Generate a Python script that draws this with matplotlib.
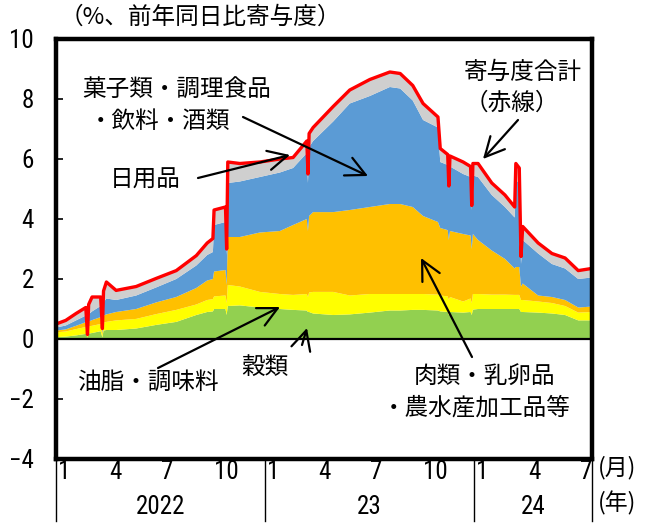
import matplotlib
matplotlib.use("Agg")
import matplotlib.pyplot as plt
import matplotlib.transforms as mtransforms
from matplotlib import font_manager
from matplotlib.font_manager import FontProperties
import numpy as np
import pandas as pd

plt.rcParams['font.family'] = ['Noto Sans CJK JP', 'DejaVu Sans']
plt.rcParams['axes.unicode_minus'] = True

# ---------------- data (contributions, % points) ----------------
dates = ["2022-01-01", "2022-01-18", "2022-02-05", "2022-02-22", "2022-02-25", "2022-02-27",
         "2022-03-05", "2022-03-20", "2022-03-23", "2022-03-25", "2022-03-30", "2022-04-16",
         "2022-05-21", "2022-06-25", "2022-07-30", "2022-09-03", "2022-09-22", "2022-10-02",
         "2022-10-04", "2022-10-24", "2022-10-26", "2022-10-28", "2022-11-18", "2022-12-23",
         "2023-01-27", "2023-02-19", "2023-03-15", "2023-03-17", "2023-03-19", "2023-03-26",
         "2023-04-30", "2023-05-29", "2023-07-03", "2023-08-07", "2023-08-25", "2023-09-16",
         "2023-10-04", "2023-10-30", "2023-11-03", "2023-11-16", "2023-11-18", "2023-11-20",
         "2023-12-13", "2023-12-26", "2023-12-28", "2023-12-30", "2024-01-08", "2024-02-01",
         "2024-02-24", "2024-03-12", "2024-03-14", "2024-03-20", "2024-03-23", "2024-03-26",
         "2024-04-22", "2024-05-16", "2024-06-08", "2024-07-01", "2024-07-24"]

# 穀類
grains = [0.06, 0.08, 0.12, 0.17, 0.05, 0.18, 0.20, 0.26, 0.05, 0.28, 0.30, 0.30,
          0.35, 0.47, 0.57, 0.80, 0.90, 0.92, 1.00, 1.00, 0.80, 1.10, 1.12, 1.05,
          1.00, 0.97, 0.95, 0.90, 0.90, 0.85, 0.80, 0.82, 0.88, 0.95, 0.95, 0.97,
          0.97, 0.95, 0.92, 0.90, 0.80, 0.90, 0.88, 0.90, 0.80, 0.98, 1.00, 1.00,
          1.00, 1.00, 1.00, 1.00, 0.90, 0.90, 0.88, 0.85, 0.80, 0.62, 0.62]

# 油脂・調味料
oils = [0.16, 0.17, 0.21, 0.23, 0.05, 0.24, 0.24, 0.24, 0.07, 0.26, 0.27, 0.32,
        0.32, 0.36, 0.40, 0.35, 0.40, 0.41, 0.42, 0.45, 0.40, 0.70, 0.63, 0.52,
        0.50, 0.50, 0.55, 0.50, 0.65, 0.72, 0.77, 0.63, 0.62, 0.55, 0.55, 0.53,
        0.53, 0.53, 0.53, 0.52, 0.50, 0.50, 0.37, 0.45, 0.40, 0.52, 0.50, 0.48,
        0.48, 0.47, 0.47, 0.47, 0.40, 0.40, 0.37, 0.35, 0.30, 0.26, 0.28]

# 肉類・乳卵品・農水産加工品等
meat = [0.06, 0.07, 0.11, 0.16, 0.02, 0.16, 0.19, 0.23, 0.08, 0.24, 0.25, 0.28,
        0.33, 0.39, 0.43, 0.55, 0.65, 0.67, 0.83, 0.85, 0.60, 1.60, 1.65, 1.98,
        2.10, 2.33, 2.50, 2.20, 2.55, 2.66, 2.66, 2.85, 2.90, 3.00, 3.00, 2.90,
        2.60, 2.42, 2.25, 2.21, 2.00, 2.20, 2.25, 2.10, 1.80, 2.00, 1.80, 1.47,
        1.19, 0.88, 0.93, 0.93, 0.45, 0.55, 0.20, 0.20, 0.20, 0.17, 0.18]

# 菓子類・調理食品・飲料・酒類
snacks = [0.10, 0.13, 0.18, 0.22, 0.01, 0.24, 0.29, 0.37, 0.10, 0.44, 0.53, 0.40,
          0.45, 0.50, 0.60, 0.75, 0.85, 0.90, 1.55, 1.60, 1.00, 1.80, 1.85, 1.85,
          1.95, 1.90, 2.20, 1.60, 2.30, 2.37, 3.02, 3.55, 3.70, 3.90, 3.85, 3.55,
          3.20, 3.15, 2.20, 2.17, 1.70, 2.15, 2.00, 1.95, 1.30, 1.95, 2.10, 1.85,
          1.73, 1.70, 2.90, 2.80, 0.75, 1.45, 1.40, 1.10, 1.05, 0.95, 0.97]

# 日用品
daily = [0.12, 0.17, 0.23, 0.27, 0.02, 0.33, 0.48, 0.30, 0.05, 0.38, 0.55, 0.32,
         0.30, 0.30, 0.28, 0.33, 0.40, 0.45, 0.50, 0.50, 0.20, 0.70, 0.60, 0.50,
         0.45, 0.35, 0.40, 0.30, 0.45, 0.45, 0.50, 0.45, 0.55, 0.50, 0.50, 0.50,
         0.55, 0.35, 0.45, 0.35, 0.10, 0.35, 0.40, 0.35, 0.15, 0.40, 0.45, 0.40,
         0.40, 0.35, 0.55, 0.50, 0.25, 0.45, 0.35, 0.35, 0.35, 0.28, 0.30]

yticks = [-4, -2, 0, 2, 4, 6, 8, 10]
month_ticks = ["2022-01", "2022-04", "2022-07", "2022-10", "2023-01", "2023-04",
               "2023-07", "2023-10", "2024-01", "2024-04", "2024-07"]
years = ["2022", "23", "24"]
year_starts = ["2022-01-01", "2023-01-01", "2024-01-01"]
x_end = "2024-07-25"

colors = ["#92D050", "#FFFF00", "#FFC000", "#5B9BD5", "#CFCFCF"]

# ---------------- fonts: look for a condensed/narrow sans for digits ----------------
def find_narrow():
    best = None
    for f in font_manager.fontManager.ttflist:
        nm = f.name
        fn = f.fname.lower()
        st = f.stretch
        narrow = ('Narrow' in nm or 'Condensed' in nm or 'condensed' in fn or 'narrow' in fn
                  or st in ('condensed', 'semi-condensed', 'extra-condensed', 'ultra-condensed')
                  or (isinstance(st, (int, float)) and st < 500))
        if not narrow:
            continue
        if f.style != 'normal':
            continue
        w = f.weight
        if isinstance(w, str):
            w = {'normal': 400, 'regular': 400, 'book': 400}.get(w.lower(), 700)
        if w > 500 or w < 300:
            continue
        if 'mono' in nm.lower() or ('serif' in nm.lower() and 'sans' not in nm.lower()):
            continue
        if 'Liberation Sans Narrow' in nm:
            score = 5
        elif 'Roboto' in nm:
            score = 4
        elif 'DejaVu Sans' in nm:
            score = 3
        else:
            score = 1
        if best is None or score > best[0]:
            best = (score, f.fname)
    return best[1] if best else None

nf = find_narrow()
if nf:
    numprop = FontProperties(fname=nf, size=18)
else:
    numprop = FontProperties(family='Liberation Sans', size=18, stretch='condensed')

# ---------------- figure ----------------
W, H = 653, 523
fig = plt.figure(figsize=(W / 100, H / 100), dpi=100)
L, R, T, B = 56, 592, 39, 459
ax = fig.add_axes([L / W, 1 - B / H, (R - L) / W, (B - T) / H])

x = pd.to_datetime(dates)
ax.stackplot(x, grains, oils, meat, snacks, daily, colors=colors, linewidth=0, zorder=2)
total = np.array(grains) + np.array(oils) + np.array(meat) + np.array(snacks) + np.array(daily)
ax.plot(x, total, color="#FF0000", lw=2.4, zorder=3, solid_joinstyle='round')
ax.axhline(0, color="black", lw=1.6, zorder=4)

xmin = pd.Timestamp(year_starts[0])
xmax = pd.Timestamp(x_end)
ax.set_xlim(xmin, xmax)
ax.set_ylim(-4, 10)
ax.set_yticks(yticks)
ax.set_yticklabels([str(v) if v >= 0 else "\u2212" + str(-v) for v in yticks])
ax.set_xticks([])
ax.tick_params(axis='y', direction='in', length=5, width=1.2, pad=16)
for lbl in ax.get_yticklabels():
    lbl.set_fontproperties(numprop)
for s in ax.spines.values():
    s.set_linewidth(3.2)
    s.set_zorder(5)

# x-axis labels
trans = mtransforms.blended_transform_factory(ax.transData, ax.transAxes)
mprop = numprop.copy()
mprop.set_size(18)
for m in month_ticks:
    d = pd.Timestamp(m + "-01")
    ax.text(d + pd.Timedelta(days=3), -0.032, str(d.month), transform=trans,
            ha='left', va='center', fontproperties=mprop, clip_on=False)
bounds = [pd.Timestamp(s) for s in year_starts] + [xmax]
for i, yr in enumerate(years):
    mid = bounds[i] + (bounds[i + 1] - bounds[i]) / 2
    ax.text(mid, -0.115, yr, transform=trans, ha='center', va='center',
            fontproperties=mprop, clip_on=False)
for bnd in bounds:
    ax.plot([bnd, bnd], [0, -0.148], transform=trans, color='black', lw=1.0, clip_on=False)

fig.text(617 / W, 1 - 468 / H, "(月)", ha='center', va='center', fontsize=16.5)
fig.text(617 / W, 1 - 503 / H, "(年)", ha='center', va='center', fontsize=16.5)

# title / labels
def fp(px, py):
    return (px, H - py)

fig.text(60 / W, 1 - 17 / H, "（%、前年同日比寄与度）", ha='left', va='center', fontsize=17)

labels = [
    ("菓子類・調理食品", 177, 90),
    ("・飲料・酒類", 160, 122),
    ("日用品", 145, 180),
    ("寄与度合計", 523, 72),
    ("（赤線）", 512, 103),
    ("油脂・調味料", 149, 382),
    ("穀類", 265, 367),
    ("肉類・乳卵品", 485, 377),
    ("・農水産加工品等", 476, 408),
]
for txt, px, py in labels:
    fig.text(px / W, 1 - py / H, txt, ha='center', va='center', fontsize=17, zorder=10)

arrows = [
    ((243, 117), (368, 176)),
    ((198, 178), (290, 155)),
    ((518, 120), (483, 159)),
    ((158, 368), (280, 307)),
    ((302, 345), (307, 328)),
    ((472, 357), (421, 258)),
]
for start, head in arrows:
    ax.annotate("", xy=fp(*head), xytext=fp(*start), xycoords='figure pixels',
                textcoords='figure pixels',
                arrowprops=dict(arrowstyle='->,head_length=0.7,head_width=0.35',
                                lw=1.6, color='black', mutation_scale=20,
                                shrinkA=0, shrinkB=0),
                annotation_clip=False, zorder=10)

fig.savefig("out.png", dpi=100)
